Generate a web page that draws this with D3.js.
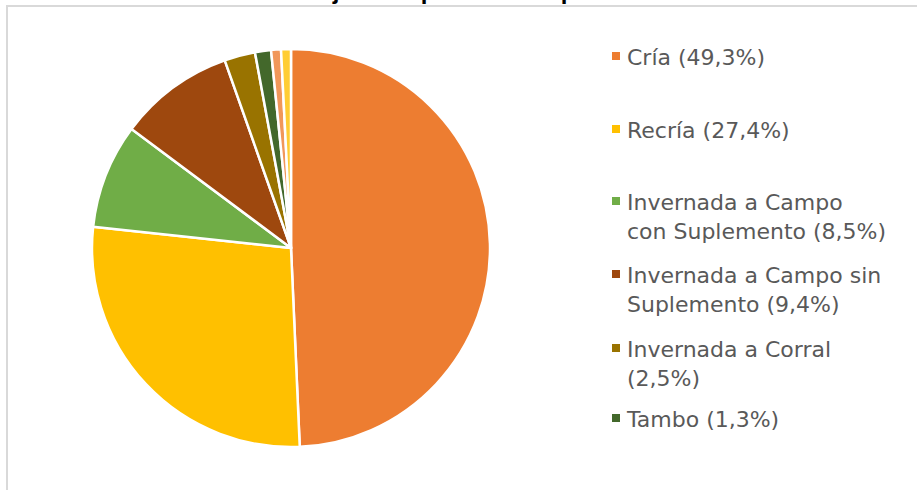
<!DOCTYPE html>
<meta charset="utf-8">
<script src="https://d3js.org/d3.v7.min.js"></script>
<style>
  body { margin: 0; background: #fff; }
</style>
<div id="chart"></div>
<script>

// data (percent of total)
var categories = ["Cría", "Recría", "Invernada a Campo con Suplemento", "Invernada a Campo sin Suplemento",
                  "Invernada a Corral", "Tambo", "Cabaña", "Otros"];
var values = [49.3, 27.4, 8.5, 9.4, 2.5, 1.3, 0.8, 0.8];
var colors = ["#ED7D31", "#FFC000", "#70AD47", "#9E480E", "#997300", "#43682B", "#F1975A", "#FFCD33"];
// legend text as shown (only the first six entries fit in the legend)
var legendLines = [
  ["Cría (49,3%)"],
  ["Recría (27,4%)"],
  ["Invernada a Campo", "con Suplemento (8,5%)"],
  ["Invernada a Campo sin", "Suplemento (9,4%)"],
  ["Invernada a Corral", "(2,5%)"],
  ["Tambo (1,3%)"]
];
var title = "Porcentaje de explotaciones por actividad";

var width = 917, height = 490;
var cx = 291, cy = 248, radius = 199;

var svg = d3.select("#chart")
  .append("svg")
    .attr("width", width)
    .attr("height", height);

// chart area border (cut off at right and bottom)
svg.append("rect")
  .attr("x", 7)
  .attr("y", 6)
  .attr("width", 1000)
  .attr("height", 1000)
  .attr("fill", "none")
  .attr("stroke", "#d9d9d9")
  .attr("stroke-width", 2);

// title, mostly above the visible area
svg.append("text")
  .attr("x", 470)
  .attr("y", -1)
  .attr("text-anchor", "middle")
  .style("font-family", "'Liberation Sans', Arial, sans-serif")
  .style("font-weight", "bold")
  .style("font-size", "24px")
  .attr("fill", "#000")
  .text(title);

var data = categories.map(function(c, i) { return {name: c, value: values[i], color: colors[i]}; });

var pie = d3.pie()
  .sort(null)
  .value(function(d) { return d.value; });

var arc = d3.arc()
  .innerRadius(0)
  .outerRadius(radius);

var g = svg.append("g")
  .attr("transform", "translate(" + cx + "," + cy + ")");

g.selectAll("path")
  .data(pie(data))
  .enter()
  .append("path")
    .attr("d", arc)
    .attr("fill", function(d) { return d.data.color; })
    .attr("stroke", "#fff")
    .attr("stroke-width", 2.5)
    .attr("stroke-linejoin", "round");

// legend
var legendX = 612, textX = 627, lineH = 28.5;
var legendY = [65, 138, 210, 283, 357, 427];

var leg = svg.append("g");
legendLines.forEach(function(lines, i) {
  var y0 = legendY[i];
  leg.append("rect")
    .attr("x", legendX)
    .attr("y", y0 - 13)
    .attr("width", 8)
    .attr("height", 8)
    .attr("fill", colors[i]);
  var t = leg.append("text")
    .attr("x", textX)
    .attr("y", y0)
    .style("font-family", "'DejaVu Sans', sans-serif")
    .style("font-size", "22px")
    .attr("fill", "#595959");
  lines.forEach(function(l, j) {
    t.append("tspan")
      .attr("x", textX)
      .attr("y", y0 + j * lineH)
      .text(l);
  });
});

</script>
